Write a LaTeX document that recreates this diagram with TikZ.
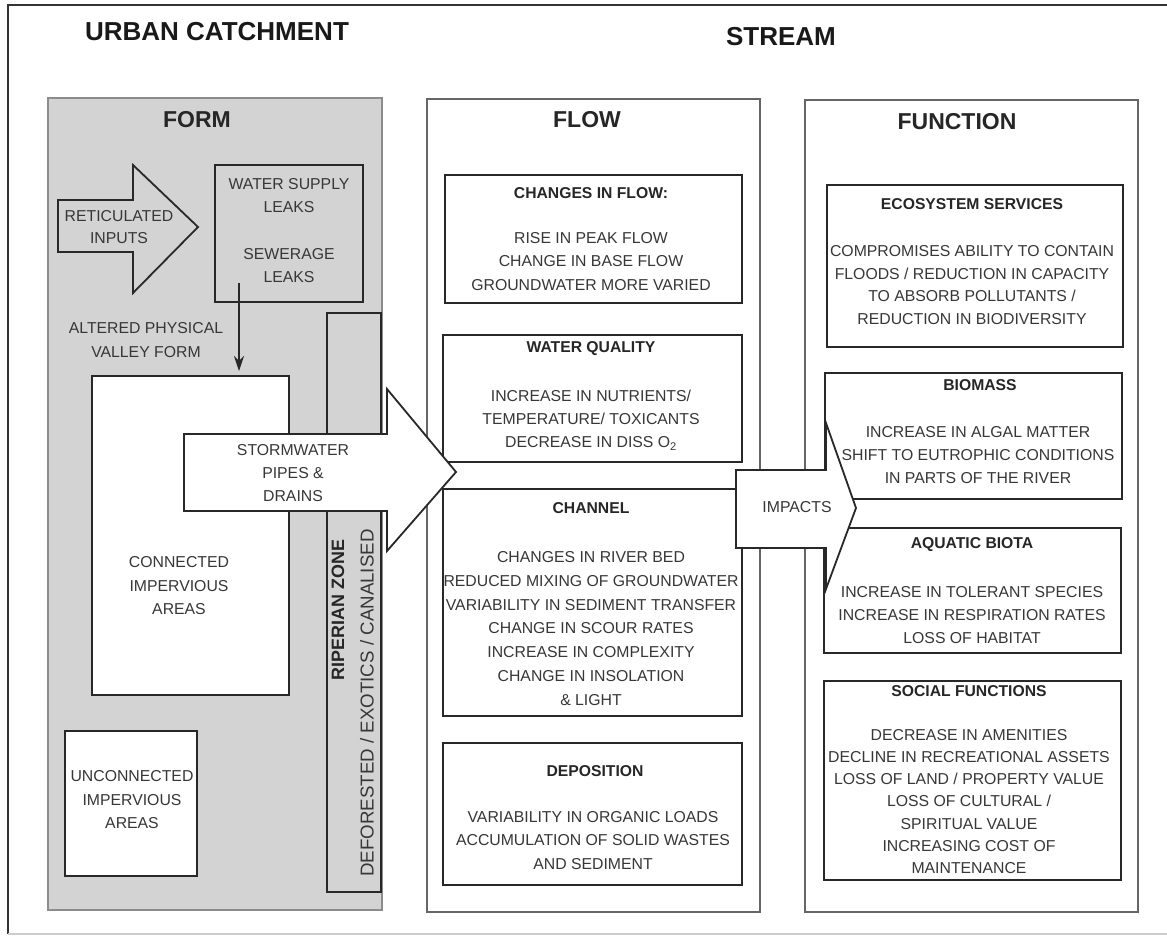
\documentclass[tikz,border=0pt]{standalone}
\usepackage{fontspec}
\setmainfont{Liberation Sans}
\usetikzlibrary{arrows.meta}
\definecolor{formgray}{RGB}{211,211,211}
\definecolor{txt}{RGB}{55,55,55}
\definecolor{edge}{RGB}{40,40,40}
\begin{document}
\begin{tikzpicture}[x=1pt,y=-1pt,
  rect/.style={draw=edge, line width=1.8pt, anchor=north west, inner sep=0pt, outer sep=0pt},
  body/.style={font=\fontsize{15.8}{#1}\selectfont, text=txt, align=center, inner sep=0pt},
  body/.default=23.5,
  head/.style={font=\bfseries\fontsize{15.7}{19}\selectfont, text=black!85, inner sep=0pt},
  bigtitle/.style={font=\bfseries\fontsize{26}{30}\selectfont, text=black!90, inner sep=0pt},
  section/.style={font=\bfseries\fontsize{23}{27}\selectfont, text=black!85, inner sep=0pt},
  bigarrow/.style={draw=edge, line width=1.8pt, fill=white, line join=miter},
  column/.style={rect, draw=black!60, line width=1.6pt, fill=white},
]
\useasboundingbox (0,0) rectangle (1167,936);
\fill[white] (0,0) rectangle (1167,936);

% outer frame
\draw[line width=2pt, draw=black!80] (1172,5) -- (8,5) -- (8,934);
\draw[line width=1.2pt, draw=black!20] (8,934) -- (1172,934);

% titles
\node[bigtitle] (urban) at (217,31.5) {URBAN CATCHMENT};
\node[bigtitle] (stream) at (781,36.5) {STREAM};

% ===== FORM =====
\node[rect, draw=black!45, line width=1.2pt, fill=formgray, minimum width=334, minimum height=812] (form) at (48,98) {};
\node[section] (formt) at (197,120) {FORM};

\draw[bigarrow, fill=formgray] (58,200) -- (133,200) -- (133,165) -- (198,227) -- (133,293) -- (133,252) -- (58,252) -- cycle;
\node[body=22] (ret) at (119,227) {RETICULATED\\INPUTS};

\node[rect, minimum width=148, minimum height=137] (ws) at (215,165) {};
\node[body=23.25] (wst) at (289,230.5) {WATER SUPPLY\\LEAKS\\[23.25pt]SEWERAGE\\LEAKS};

\node[body] (alt) at (146,340) {ALTERED PHYSICAL\\VALLEY FORM};

\node[rect, fill=white, minimum width=197, minimum height=319] (conn) at (92,376) {};
\node[body] (connt) at (179,586) {CONNECTED\\IMPERVIOUS\\AREAS};

\coordinate (leak) at (239,283);
\draw[line width=1.2pt, draw=edge, -{Stealth[length=15pt,width=10pt]}, shorten >=5pt] (leak) -- (leak |- conn.north);

\node[rect, fill=white, minimum width=132, minimum height=145] (unc) at (65,731) {};
\node[body] (unct) at (132,800) {UNCONNECTED\\IMPERVIOUS\\AREAS};

\node[rect, fill=formgray, minimum width=54, minimum height=579] (rip) at (327,313) {};
\node[head, font=\bfseries\fontsize{17.9}{20}\selectfont, rotate=90] (ript) at (338,610) {RIPERIAN ZONE};
\node[body, font=\fontsize{18.7}{20}\selectfont, rotate=90] (ripd) at (367,703) {DEFORESTED / EXOTICS / CANALISED};

% ===== FLOW =====
\node[column, minimum width=333, minimum height=813] (flow) at (427,99) {};
\node[section] (flowt) at (587,120) {FLOW};

\node[rect, minimum width=297, minimum height=128] (cf) at (445,175) {};
\node[head] (cfh) at (591,193) {CHANGES IN FLOW:};
\node[body] (cfb) at (591,261.5) {RISE IN PEAK FLOW\\CHANGE IN BASE FLOW\\GROUNDWATER MORE VARIED};

\node[rect, minimum width=299, minimum height=127] (wq) at (443,335) {};
\node[head] (wqh) at (591,349) {WATER QUALITY};
\node[body=23] (wqb) at (591,420) {INCREASE IN NUTRIENTS/\\TEMPERATURE/ TOXICANTS\\DECREASE IN DISS O\textsubscript{2}};

\node[rect, minimum width=299, minimum height=227] (ch) at (443,489) {};
\node[head] (chh) at (591,508) {CHANNEL};
\node[body=23.8] (chb) at (591,628.5) {CHANGES IN RIVER BED\\REDUCED MIXING OF GROUNDWATER\\VARIABILITY IN SEDIMENT TRANSFER\\CHANGE IN SCOUR RATES\\INCREASE IN COMPLEXITY\\CHANGE IN INSOLATION\\\& LIGHT};

\node[rect, minimum width=299, minimum height=142] (dep) at (443,743) {};
\node[head] (deph) at (595,771) {DEPOSITION};
\node[body] (depb) at (593,840.5) {VARIABILITY IN ORGANIC LOADS\\ACCUMULATION OF SOLID WASTES\\AND SEDIMENT};

% ===== FUNCTION =====
\node[column, minimum width=333, minimum height=812] (func) at (805,100) {};
\node[section] (funct) at (957,122) {FUNCTION};

\node[rect, minimum width=296, minimum height=162] (es) at (827,185) {};
\node[head] (esh) at (972,204) {ECOSYSTEM SERVICES};
\node[body=22.7] (esb) at (972,285) {COMPROMISES ABILITY TO CONTAIN\\FLOODS / REDUCTION IN CAPACITY\\TO ABSORB POLLUTANTS /\\REDUCTION IN BIODIVERSITY};

\node[rect, minimum width=297, minimum height=126] (bio) at (825,373) {};
\node[head] (bioh) at (980,385) {BIOMASS};
\node[body=23] (biob) at (978,455) {INCREASE IN ALGAL MATTER\\SHIFT TO EUTROPHIC CONDITIONS\\IN PARTS OF THE RIVER};

\node[rect, minimum width=297, minimum height=125] (aq) at (824,528) {};
\node[head] (aqh) at (972,545) {AQUATIC BIOTA};
\node[body=23] (aqb) at (972,615) {INCREASE IN TOLERANT SPECIES\\INCREASE IN RESPIRATION RATES\\LOSS OF HABITAT};

\node[rect, minimum width=297, minimum height=199] (soc) at (824,681) {};
\node[head] (soch) at (969,691) {SOCIAL FUNCTIONS};
\node[body=22.2] (socb) at (969,801.5) {DECREASE IN AMENITIES\\DECLINE IN RECREATIONAL ASSETS\\LOSS OF LAND / PROPERTY VALUE\\LOSS OF CULTURAL /\\SPIRITUAL VALUE\\INCREASING COST OF\\MAINTENANCE};

% ===== big arrows =====
\draw[bigarrow] (184,434) -- (387,434) -- (387,389) -- (456,472) -- (387,551) -- (387,511) -- (184,511) -- cycle;
\node[body=23] (storm) at (293,473) {STORMWATER\\PIPES \&\\DRAINS};

\draw[bigarrow] (736,470) -- (826,470) -- (826,423) -- (856,508) -- (826,589) -- (826,548) -- (736,548) -- cycle;
\node[body] (imp) at (797,507) {IMPACTS};
\end{tikzpicture}
\end{document}
